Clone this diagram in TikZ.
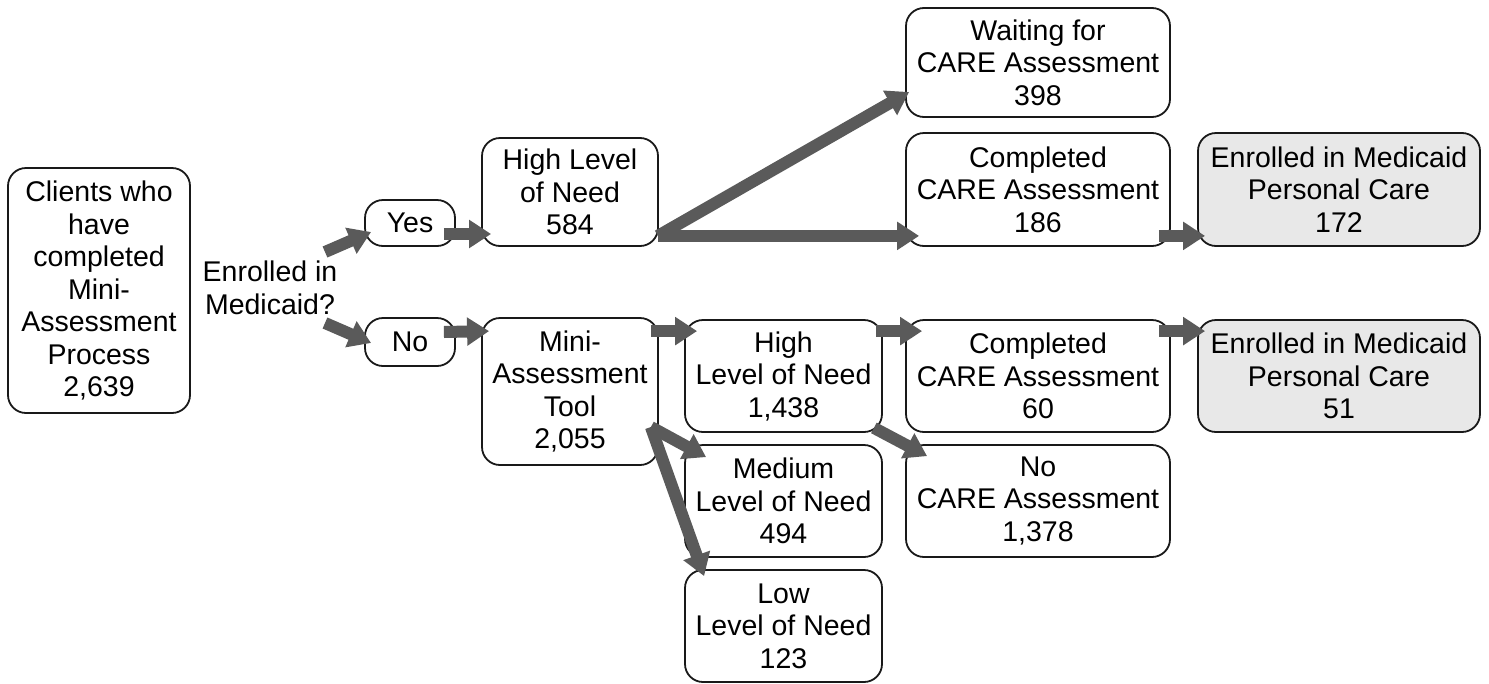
\documentclass[tikz,border=0pt]{standalone}
\usepackage{fontspec}
\setmainfont{Liberation Sans}
\usetikzlibrary{arrows.meta,calc}
\definecolor{arrowgray}{HTML}{5A5A5A}
\definecolor{boxgray}{HTML}{E8E8E8}
\begin{document}
\begin{tikzpicture}[x=1pt,y=-1pt,
  every node/.style={font=\fontsize{28.5}{32.5}\selectfont, align=center, inner sep=0pt},
  box/.style={draw=black!90, line width=1.8pt, rounded corners=18pt},
  graybox/.style={box, fill=boxgray},
  flow/.style={draw=arrowgray, line width=12pt, -{Triangle[length=22pt,width=27pt]}, arrowgray}
]
\useasboundingbox (0,0) rectangle (1489,683);
\node[box, minimum width=182pt, minimum height=245pt] (clients) at (99,290.5) {Clients who\\have\\completed\\Mini-\\Assessment\\Process\\2,639};
\node (q) at (270,288) {Enrolled in\\Medicaid?};
\node[box, minimum width=90pt, minimum height=46pt] (yes) at (410,223) {Yes};
\node[box, minimum width=90pt, minimum height=48pt] (no) at (410,342) {No};
\node[box, minimum width=176pt, minimum height=108pt] (high584) at (570,192) {High Level\\of Need\\584};
\node[box, minimum width=176pt, minimum height=147pt] (mini) at (570,391.5) {Mini-\\Assessment\\Tool\\2,055};
\node[box, minimum width=264pt, minimum height=109pt] (waiting) at (1038,62.5) {Waiting for\\CARE Assessment\\398};
\node[box, minimum width=264pt, minimum height=113pt] (comp186) at (1038,189.5) {Completed\\CARE Assessment\\186};
\node[graybox, minimum width=282pt, minimum height=113pt] (enr172) at (1339,189.5) {Enrolled in Medicaid\\Personal Care\\172};
\node[box, minimum width=197pt, minimum height=112pt] (high1438) at (783.5,376) {High\\Level of Need\\1,438};
\node[box, minimum width=264pt, minimum height=112pt] (comp60) at (1038,376) {Completed\\CARE Assessment\\60};
\node[graybox, minimum width=282pt, minimum height=112pt] (enr51) at (1339,376) {Enrolled in Medicaid\\Personal Care\\51};
\node[box, minimum width=197pt, minimum height=112pt] (medium) at (783.5,501) {Medium\\Level of Need\\494};
\node[box, minimum width=264pt, minimum height=112pt] (nocare) at (1038,501) {No\\CARE Assessment\\1,378};
\node[box, minimum width=197pt, minimum height=112pt] (low) at (783.5,626) {Low\\Level of Need\\123};

\draw[flow] ($(q.center)+(55,-36)$) -- ($(yes.west)+(7,9)$);
\draw[flow] ($(q.center)+(55,35)$) -- ($(no.west)+(7,1)$);
\draw[flow] ($(yes.east)+(-12,11)$) -- ($(high584.west)+(10,42)$);
\draw[flow] ($(no.east)+(-12,-10)$) -- ($(mini.north west)+(8,14)$);
\draw[flow] ($(high584.south east)+(-1,-11)$) -- ($(waiting.west)+(4,29.5)$);
\draw[flow] ($(high584.south east)+(-1,-11)$) -- ($(comp186.south west)+(14,-11)$);
\draw[flow] ($(comp186.south east)+(-12,-11)$) -- ($(enr172.south west)+(8,-11)$);
\draw[flow] ($(mini.north east)+(-8,14)$) -- ($(high1438.north west)+(13,12)$);
\draw[flow] ($(mini.east)+(-8,35.5)$) -- ($(medium.north west)+(22,13)$);
\draw[flow] ($(mini.east)+(-8,35.5)$) -- ($(low.north west)+(20,7)$);
\draw[flow] ($(high1438.north east)+(-7,12)$) -- ($(comp60.north west)+(17,12)$);
\draw[flow] ($(comp60.north east)+(-12,12)$) -- ($(enr51.north west)+(8,12)$);
\draw[flow] ($(high1438.south east)+(-9,-5)$) -- ($(nocare.north west)+(22,12)$);
\end{tikzpicture}
\end{document}
